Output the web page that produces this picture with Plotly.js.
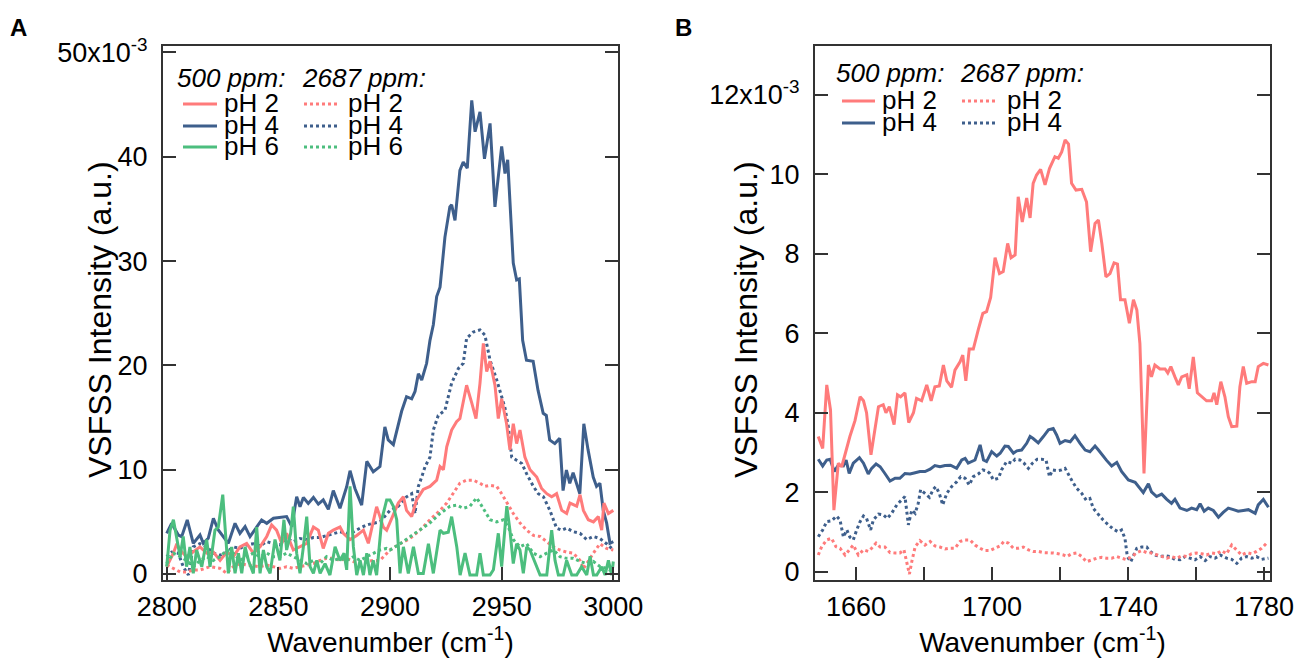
<!DOCTYPE html>
<html><head><meta charset="utf-8">
<script src="https://cdn.plot.ly/plotly-3.0.1.min.js"></script>
<style>html,body{margin:0;padding:0;background:#fff;} #chart{width:1299px;height:661px;}</style>
</head><body><div id="chart"></div>
<script>
// ---------------- Panel A (C-H region), values in units of 1e-3 ----------------
const A_xTicks = [2800, 2850, 2900, 2950, 3000];
const A_yTicks = [0, 10, 20, 30, 40, 50];
const A_yTickText = ['0', '10', '20', '30', '40', '50x10<sup>-3</sup>'];

// 500 ppm, pH 4 (solid blue)
const A500_pH4_x = [2800.0,2802.2,2805.2,2806.7,2809.2,2811.9,2814.9,2816.4,2818.6,2820.9,2823.1,2825.4,2827.6,2830.6,2832.8,2835.1,2837.3,2842.5,2844.8,2847.8,2850.7,2853.7,2856.0,2858.2,2859.7,2861.2,2863.4,2865.7,2867.9,2870.1,2872.4,2874.6,2877.6,2880.6,2882.1,2884.3,2887.3,2889.6,2892.5,2895.5,2897.7,2899.2,2901.5,2903.0,2905.2,2907.4,2909.7,2911.2,2912.7,2914.2,2916.4,2917.9,2919.4,2920.9,2922.4,2924.6,2926.8,2927.6,2929.1,2931.3,2932.8,2934.6,2936.6,2938.1,2940.3,2942.3,2944.8,2947.0,2950.0,2951.5,2952.7,2955.2,2956.7,2957.9,2959.4,2961.1,2964.1,2966.3,2968.6,2970.0,2971.5,2973.8,2976.0,2977.5,2979.0,2980.5,2982.0,2985.0,2986.8,2988.7,2991.0,2992.5,2994.0,2995.5,2997.0,2998.5,3000.0];
const A500_pH4_y = [3.9,4.86,3.74,3.58,5.18,2.94,3.74,2.94,3.42,5.34,4.22,3.58,2.94,4.86,3.9,4.54,3.58,5.18,4.86,5.34,5.43,5.5,4.54,7.4,6.45,7.34,6.77,7.34,6.7,7.1,6.2,8.0,6.3,8.37,9.9,8.2,6.6,10.8,9.8,10.3,14.1,12.85,12.4,13.8,15.6,17.0,16.8,17.5,19.2,18.6,20.2,22.4,23.9,26.6,27.5,32.3,35.2,35.4,33.9,38.7,39.5,38.9,45.4,42.4,44.3,39.8,43.2,35.2,41.0,38.4,39.7,29.8,28.2,28.3,22.4,20.5,20.4,17.6,15.4,15.2,12.85,12.5,13.0,8.0,9.97,8.7,9.7,7.7,14.4,11.9,9.3,8.4,8.7,6.1,4.9,2.94,3.1];

// 2687 ppm, pH 4 (dotted blue)
const A2687_pH4_x = [2800.0,2802.2,2805.2,2807.4,2809.7,2811.9,2814.9,2817.9,2820.9,2823.9,2826.9,2829.8,2832.8,2835.8,2838.8,2841.8,2844.8,2847.8,2850.7,2853.7,2856.7,2859.7,2862.7,2865.7,2868.7,2871.6,2874.6,2877.6,2880.6,2883.6,2886.6,2889.6,2892.5,2895.5,2900.0,2903.7,2907.4,2909.7,2911.2,2912.7,2914.2,2915.7,2917.9,2919.4,2921.6,2924.6,2927.6,2930.6,2932.8,2934.3,2937.3,2940.3,2942.5,2944.8,2947.8,2949.2,2951.5,2953.0,2954.5,2956.7,2959.0,2961.2,2964.2,2966.4,2968.7,2971.6,2974.6,2976.9,2979.1,2982.1,2985.1,2988.1,2991.1,2994.0,2997.0,3000.0];
const A2687_pH4_y = [1.66,2.1,2.0,0.7,-0.1,2.6,2.9,2.6,2.0,1.8,2.1,2.6,2.45,2.8,2.9,2.7,3.1,2.9,2.8,3.4,3.1,3.4,3.3,3.5,3.5,3.7,3.9,4.05,3.9,4.05,4.4,4.7,4.86,5.0,6.1,6.5,7.4,7.7,5.8,8.4,9.3,10.3,11.2,13.8,15.2,15.7,18.3,19.7,20.2,22.6,23.2,23.4,22.9,20.5,18.6,17.5,15.9,14.1,11.2,10.9,10.6,9.6,8.4,7.7,7.4,6.1,4.4,4.2,4.4,4.05,3.9,3.3,3.6,3.4,2.9,2.3];

// 500 ppm, pH 2 (solid red)
const A500_pH2_x = [2800.0,2803.0,2804.5,2806.0,2808.9,2811.9,2814.9,2817.9,2820.9,2823.9,2826.9,2829.8,2832.8,2835.8,2838.8,2841.8,2844.8,2847.0,2849.2,2851.5,2853.7,2856.7,2859.7,2862.7,2865.7,2867.9,2870.1,2872.4,2874.6,2877.6,2879.1,2882.1,2885.1,2888.1,2890.3,2892.5,2894.0,2895.5,2897.0,2898.5,2901.5,2903.7,2906.0,2907.4,2909.7,2911.9,2914.9,2917.9,2920.9,2922.4,2923.9,2925.4,2927.6,2929.8,2931.3,2934.3,2936.6,2938.5,2940.3,2941.8,2943.3,2944.8,2947.0,2948.5,2950.0,2952.2,2953.7,2955.2,2956.7,2958.2,2960.4,2962.7,2965.7,2967.9,2970.2,2972.4,2974.6,2976.9,2979.1,2980.6,2983.6,2985.1,2986.6,2988.8,2991.1,2993.3,2994.8,2995.8,2997.8,3000.0];
const A500_pH2_y = [0.7,2.0,2.9,2.3,1.66,2.1,2.6,2.0,2.1,1.3,2.1,1.66,2.6,2.94,2.0,2.6,3.6,4.7,4.2,2.94,3.9,2.3,2.6,2.94,4.5,4.2,2.45,3.9,4.2,4.5,3.9,3.3,3.7,4.2,2.94,5.2,6.45,5.5,4.5,4.2,5.8,6.8,7.4,6.1,5.5,7.1,8.1,8.4,9.0,10.3,10.0,12.2,13.8,14.6,14.9,18.1,16.4,14.9,18.3,22.1,19.4,20.4,18.1,14.9,16.8,14.4,11.9,14.4,12.5,13.8,11.2,10.0,9.3,8.2,7.7,7.4,7.7,6.1,5.8,6.8,6.5,7.6,6.1,5.2,5.0,5.5,4.2,6.8,5.8,6.1];

// 2687 ppm, pH 2 (dotted red)
const A2687_pH2_x = [2800.0,2803.0,2806.0,2808.9,2811.9,2814.9,2819.4,2823.9,2826.9,2829.8,2832.8,2835.8,2838.8,2841.8,2844.8,2847.8,2850.7,2853.7,2856.7,2859.7,2862.7,2865.7,2868.7,2871.6,2874.6,2877.6,2880.6,2883.6,2886.6,2889.6,2892.5,2895.5,2900.0,2904.5,2908.9,2913.4,2917.9,2922.4,2925.4,2928.3,2931.3,2934.3,2937.3,2940.3,2942.5,2944.8,2947.8,2950.0,2952.2,2955.2,2958.2,2961.2,2964.2,2967.2,2970.2,2973.1,2976.1,2979.1,2982.1,2985.1,2986.6,2988.8,2991.1,2994.0,2997.0,3000.0];
const A2687_pH2_y = [0.86,0.54,0.2,0.2,0.38,0.38,0.7,0.54,0.06,0.7,1.0,0.86,0.77,0.7,0.86,0.7,0.54,0.7,0.54,0.7,0.86,1.0,1.3,1.5,1.5,1.3,1.5,1.2,1.0,1.2,1.3,1.3,2.3,2.9,3.4,4.2,5.2,6.1,6.8,7.7,8.7,9.0,9.0,8.7,8.4,8.5,8.4,7.7,6.9,5.8,4.9,4.2,3.7,3.6,3.1,2.6,2.3,2.1,2.0,1.3,0.5,1.3,2.0,2.9,2.45,2.3];

// 2687 ppm, pH 6 (dotted green)
const A2687_pH6_x = [2800.0,2803.0,2806.0,2808.9,2811.9,2814.9,2817.9,2820.9,2823.9,2826.9,2829.8,2832.8,2835.8,2838.8,2841.8,2844.8,2847.8,2850.7,2853.7,2856.7,2859.7,2862.7,2865.7,2868.7,2871.6,2874.6,2877.6,2880.6,2883.6,2886.6,2889.6,2892.5,2895.5,2898.5,2900.0,2904.5,2909.0,2913.4,2917.9,2922.4,2926.9,2929.9,2932.8,2935.8,2938.8,2940.3,2942.6,2944.8,2947.8,2950.8,2953.0,2955.2,2958.2,2961.2,2964.2,2967.2,2970.2,2973.2,2976.1,2979.1,2982.1,2985.1,2988.1,2991.1,2994.1,2997.0,3000.0];
const A2687_pH6_y = [1.0,2.0,1.66,1.3,0.7,1.3,1.66,1.3,1.66,2.3,2.0,1.3,1.66,2.0,1.66,2.0,1.66,1.66,2.0,1.66,1.3,1.0,1.3,1.0,1.66,1.3,1.5,1.3,1.66,1.3,1.66,2.0,2.3,2.45,2.3,2.9,3.6,4.2,4.9,5.8,6.5,6.6,6.3,6.5,7.3,6.8,6.0,5.2,5.0,5.2,4.5,3.3,2.6,2.9,2.0,1.66,2.0,2.3,1.66,1.5,1.5,1.2,1.0,1.2,0.7,0.54,0.2];

// 500 ppm, pH 6 (solid green)
const A500_pH6_x = [2800.0,2801.5,2803.0,2804.5,2806.0,2807.4,2808.9,2810.4,2811.9,2813.4,2815.7,2817.9,2819.4,2821.6,2823.1,2825.1,2826.9,2827.6,2829.1,2830.6,2832.1,2833.6,2835.1,2836.6,2838.8,2840.3,2841.8,2843.3,2844.8,2846.3,2848.5,2850.7,2852.5,2853.7,2855.5,2856.7,2858.2,2859.7,2861.2,2862.7,2864.2,2865.7,2867.2,2868.7,2870.9,2873.1,2875.4,2877.6,2879.4,2880.6,2882.1,2883.6,2885.1,2886.6,2888.1,2889.6,2891.0,2892.5,2894.0,2896.3,2898.5,2900.0,2901.5,2903.0,2904.5,2906.0,2908.2,2910.5,2912.7,2914.9,2917.2,2919.4,2922.4,2923.9,2926.1,2927.6,2929.9,2931.4,2933.6,2935.8,2938.8,2940.3,2941.8,2944.8,2946.3,2948.5,2950.0,2952.3,2953.7,2955.2,2956.7,2958.2,2959.7,2961.2,2962.7,2964.9,2967.2,2970.2,2972.4,2973.9,2975.4,2977.6,2979.1,2981.4,2983.6,2985.8,2988.1,2989.6,2991.1,2992.6,2994.8,2996.3,2997.8,2999.3,3000.0];
const A500_pH6_y = [0.7,4.2,5.2,3.6,1.66,3.6,0.7,2.6,0.06,2.3,0.7,3.3,0.7,4.2,4.5,7.6,2.6,0.06,2.6,0.06,2.0,0.06,2.6,1.3,0.06,4.5,0.06,2.3,0.7,0.06,3.3,1.3,5.2,2.3,3.9,6.45,2.0,0.06,2.6,5.5,0.7,0.06,1.3,0.06,1.0,-0.1,2.6,1.3,2.0,0.4,8.4,2.6,-0.1,1.3,-0.1,2.0,-0.1,1.3,-0.1,5.2,7.1,7.1,6.5,5.2,0.06,2.6,0.06,2.6,0.06,0.06,2.9,0.06,4.2,3.9,4.0,5.5,2.6,-0.1,2.0,-0.1,-0.1,2.0,-0.1,-0.1,0.4,3.9,0.7,6.5,4.2,1.0,2.9,2.3,0.06,2.6,2.3,1.2,-0.1,-0.1,4.2,1.3,-0.1,-0.1,1.3,-0.1,-0.1,0.7,-0.1,1.7,-0.1,-0.1,0.7,-0.1,1.3,-0.1,1.2];

// ---------------- Panel B (C=O region), values in units of 1e-3 ----------------
const B_xTicks = [1660, 1700, 1740, 1780];
const B_xMinorTicks = [1680, 1720, 1760];
const B_yTicks = [0, 2, 4, 6, 8, 10, 12];
const B_yTickText = ['0', '2', '4', '6', '8', '10', '12x10<sup>-3</sup>'];

// 500 ppm, pH 2 (solid red)
const B500_pH2_x = [1648.9,1650.2,1651.4,1652.5,1653.5,1654.8,1655.8,1656.8,1658.2,1659.7,1661.2,1662.2,1663.1,1664.4,1665.6,1666.6,1668.0,1668.8,1669.8,1671.2,1672.2,1673.1,1674.4,1675.5,1676.9,1677.8,1679.3,1680.8,1682.1,1683.2,1684.5,1685.7,1686.7,1688.1,1689.1,1690.6,1691.4,1692.3,1693.3,1694.5,1696.0,1697.3,1698.4,1699.6,1700.9,1702.2,1703.3,1704.6,1705.6,1706.8,1707.7,1708.9,1710.2,1711.2,1712.1,1713.1,1714.3,1715.6,1716.9,1718.5,1719.5,1720.5,1721.5,1722.5,1723.4,1724.7,1726.4,1727.8,1729.0,1730.3,1731.3,1732.3,1733.5,1734.7,1735.9,1736.9,1737.8,1739.1,1740.4,1741.6,1742.6,1743.5,1744.7,1746.0,1746.9,1747.9,1749.4,1750.9,1751.7,1752.6,1753.8,1754.8,1755.8,1757.3,1758.0,1759.2,1760.4,1761.7,1763.1,1764.6,1765.3,1766.1,1767.3,1768.5,1769.5,1770.5,1772.0,1772.9,1773.9,1774.9,1776.4,1777.4,1778.3,1779.8,1781.3];
const B500_pH2_y = [3.4,3.1,4.7,4.07,1.55,2.73,2.64,2.98,3.4,3.8,4.4,4.3,4.0,2.94,3.65,4.15,4.2,4.0,4.15,3.7,4.45,4.4,4.5,3.75,4.0,4.36,4.3,4.7,4.3,4.65,4.67,5.2,4.8,4.64,5.07,5.28,5.45,4.8,5.6,5.6,6.1,6.5,6.54,6.9,7.9,7.5,7.55,8.26,7.9,7.97,9.43,8.8,9.4,8.9,9.77,9.98,10.12,9.73,10.14,10.44,10.4,10.56,10.86,10.76,9.77,9.6,9.62,9.3,8.05,8.76,8.85,8.26,7.42,7.5,7.77,7.74,6.84,6.84,6.25,6.84,6.58,5.74,2.47,5.2,4.9,5.2,5.1,5.1,5.0,5.16,4.9,4.7,4.9,4.95,4.6,5.4,4.5,4.4,4.3,4.3,4.5,4.2,4.78,4.4,3.9,3.65,3.66,4.65,5.16,4.74,4.78,4.78,5.16,5.24,5.2];

// 500 ppm, pH 4 (solid blue)
const B500_pH4_x = [1648.9,1650.2,1651.4,1652.4,1653.6,1654.8,1656.3,1657.1,1658.0,1659.2,1661.0,1662.2,1663.6,1664.6,1665.9,1667.1,1668.5,1670.0,1671.5,1672.9,1674.4,1675.9,1677.4,1678.8,1680.3,1681.8,1683.2,1684.7,1686.2,1687.8,1689.6,1691.1,1692.1,1693.0,1695.0,1696.5,1697.5,1698.4,1699.9,1701.4,1702.4,1703.8,1704.8,1706.3,1707.3,1708.7,1710.2,1711.2,1712.1,1713.6,1715.1,1716.6,1718.0,1719.0,1720.0,1721.5,1723.0,1724.4,1725.9,1727.4,1728.8,1730.3,1731.3,1732.3,1733.7,1735.2,1736.7,1738.1,1740.1,1742.1,1743.5,1744.5,1746.0,1746.9,1748.4,1749.9,1751.4,1752.8,1753.8,1755.3,1757.3,1758.7,1760.2,1761.2,1762.4,1763.6,1765.1,1766.6,1768.0,1769.5,1771.0,1772.4,1773.9,1775.4,1777.4,1778.3,1779.8,1781.3];
const B500_pH4_y = [2.83,2.66,2.81,2.83,2.52,2.68,2.66,2.81,2.47,2.73,2.87,2.73,2.46,2.6,2.71,2.64,2.47,2.28,2.35,2.35,2.47,2.46,2.49,2.52,2.52,2.58,2.67,2.64,2.67,2.68,2.6,2.81,2.85,2.73,2.81,3.19,2.81,2.77,3.02,2.91,2.98,3.16,3.15,2.98,3.04,3.06,3.23,3.4,3.35,3.24,3.4,3.57,3.6,3.44,3.23,3.3,3.27,3.42,3.23,3.06,3.02,3.16,3.06,2.94,2.8,2.66,2.75,2.52,2.31,2.25,2.1,1.99,2.21,2.01,1.89,1.95,1.82,1.72,1.82,1.6,1.54,1.6,1.56,1.71,1.52,1.6,1.54,1.37,1.49,1.6,1.56,1.52,1.54,1.56,1.47,1.68,1.82,1.62];

// 2687 ppm, pH 2 (dotted red)
const B2687_pH2_x = [1648.9,1649.9,1651.4,1652.8,1654.1,1655.3,1656.8,1658.2,1659.2,1660.7,1662.2,1663.6,1664.6,1665.9,1667.1,1668.5,1670.0,1671.5,1672.9,1674.1,1674.9,1675.7,1676.4,1677.4,1678.8,1680.3,1681.8,1683.2,1684.7,1686.2,1687.6,1689.1,1690.6,1692.1,1693.5,1695.0,1696.5,1697.9,1699.4,1700.9,1702.4,1703.5,1704.8,1706.3,1707.7,1709.2,1710.7,1712.1,1713.6,1715.1,1716.6,1718.0,1719.5,1721.0,1722.0,1723.4,1724.9,1726.4,1727.8,1729.3,1730.8,1732.3,1733.7,1735.2,1736.7,1738.1,1739.6,1741.1,1742.6,1744.0,1745.5,1746.9,1748.4,1749.9,1751.4,1752.8,1754.3,1755.8,1757.3,1758.7,1760.2,1761.7,1763.1,1764.6,1766.1,1767.5,1769.0,1770.5,1772.0,1773.4,1774.9,1776.4,1777.8,1779.3,1780.8];
const B2687_pH2_y = [0.42,0.63,0.8,0.84,0.63,0.59,0.42,0.57,0.67,0.42,0.55,0.51,0.59,0.72,0.62,0.62,0.48,0.47,0.47,0.55,0.25,-0.06,0.25,0.63,0.78,0.67,0.76,0.65,0.62,0.57,0.59,0.59,0.76,0.8,0.8,0.67,0.59,0.53,0.53,0.59,0.65,0.76,0.72,0.59,0.59,0.62,0.55,0.51,0.51,0.48,0.48,0.47,0.45,0.42,0.38,0.45,0.47,0.38,0.25,0.3,0.34,0.36,0.34,0.34,0.38,0.34,0.3,0.38,0.48,0.53,0.48,0.47,0.42,0.38,0.34,0.38,0.34,0.4,0.38,0.45,0.47,0.45,0.42,0.47,0.45,0.53,0.45,0.67,0.53,0.42,0.48,0.45,0.51,0.59,0.72];

// 2687 ppm, pH 4 (dotted blue)
const B2687_pH4_x = [1648.9,1650.2,1651.4,1652.8,1654.3,1655.3,1656.3,1657.3,1658.2,1659.2,1660.2,1661.2,1662.2,1663.1,1664.3,1665.1,1666.6,1668.0,1669.2,1670.5,1672.0,1673.4,1674.4,1675.4,1676.4,1677.4,1678.3,1679.0,1680.3,1681.6,1682.7,1683.5,1684.5,1685.5,1686.7,1688.1,1689.6,1690.8,1692.1,1693.3,1694.5,1696.0,1697.3,1698.4,1699.4,1700.4,1701.9,1702.8,1704.3,1705.8,1706.8,1708.2,1709.4,1710.7,1711.9,1713.3,1714.6,1715.9,1716.9,1717.8,1719.2,1720.5,1721.5,1722.5,1723.7,1724.9,1726.4,1727.7,1728.8,1729.8,1731.3,1732.7,1734.2,1735.7,1737.2,1738.1,1739.1,1739.8,1740.8,1741.6,1742.6,1744.0,1745.5,1746.5,1747.9,1749.4,1750.9,1752.3,1753.8,1755.3,1756.8,1758.2,1759.7,1761.2,1762.7,1764.1,1765.6,1767.1,1769.0,1770.5,1772.0,1773.4,1774.9,1776.4,1777.8,1779.3,1781.3];
const B2687_pH4_y = [0.88,1.05,1.26,1.28,1.4,1.3,0.87,1.05,0.87,0.8,1.05,1.26,1.4,1.34,1.05,1.3,1.45,1.43,1.34,1.47,1.68,1.8,1.89,1.18,1.55,1.47,1.72,2.06,1.97,1.87,2.07,2.14,1.97,1.68,1.97,2.14,2.26,2.39,2.35,2.18,2.39,2.46,2.56,2.54,2.47,2.31,2.35,2.56,2.77,2.73,2.83,2.81,2.73,2.6,2.73,2.83,2.83,2.81,2.39,2.56,2.54,2.56,2.6,2.43,2.26,2.1,1.97,1.8,1.84,1.59,1.43,1.3,1.18,1.07,1.0,1.05,0.84,0.38,0.25,0.42,0.59,0.62,0.62,0.51,0.42,0.38,0.4,0.38,0.31,0.3,0.38,0.34,0.3,0.38,0.28,0.38,0.34,0.42,0.34,0.31,0.21,0.34,0.38,0.34,0.38,0.31,0.34];

// ---------------- styling ----------------
const RED = '#FF7B7B', BLUE = '#3E5F8C', GREEN = '#4CBE7E';
const FONT = 'Liberation Sans, Arial, Helvetica, sans-serif';
const AX = '#333333';
const W = 1299, H = 661;
const fx = v => v / W, fy = v => 1 - v / H;

function tr(x, y, color, dash, ax) {
  return {x: x, y: y, type: 'scatter', mode: 'lines', xaxis: ax[0], yaxis: ax[1],
          line: {color: color, width: 3, dash: dash}, hoverinfo: 'skip'};
}
const data = [
  tr(A500_pH4_x, A500_pH4_y, BLUE, 'solid', ['x','y']),
  tr(A2687_pH4_x, A2687_pH4_y, BLUE, 'dot', ['x','y']),
  tr(A2687_pH2_x, A2687_pH2_y, RED, 'dot', ['x','y']),
  tr(A500_pH2_x, A500_pH2_y, RED, 'solid', ['x','y']),
  tr(A2687_pH6_x, A2687_pH6_y, GREEN, 'dot', ['x','y']),
  tr(A500_pH6_x, A500_pH6_y, GREEN, 'solid', ['x','y']),
  tr(B2687_pH4_x, B2687_pH4_y, BLUE, 'dot', ['x2','y2']),
  tr(B2687_pH2_x, B2687_pH2_y, RED, 'dot', ['x2','y2']),
  tr(B500_pH4_x, B500_pH4_y, BLUE, 'solid', ['x2','y2']),
  tr(B500_pH2_x, B500_pH2_y, RED, 'solid', ['x2','y2'])
];

const tickFont = {family: FONT, size: 27, color: '#000'};
function xAxis(domain, range, tv, anchor, minorVals) {
  const ax = {domain: domain, range: range, anchor: anchor, tickmode: 'array', tickvals: tv, ticktext: tv.map(String),
    ticks: 'inside', ticklen: 13, tickwidth: 2, tickcolor: AX, showline: true, linewidth: 2,
    linecolor: AX, mirror: true, showgrid: false, zeroline: false, tickfont: tickFont,
    ticklabelstandoff: 2,
    title: {text: 'Wavenumber (cm<sup>-1</sup>)', font: {family: FONT, size: 28, color: '#000'}, standoff: 0}};
  if (minorVals) {
    ax.minor = {tickmode: 'array', tickvals: minorVals, ticks: 'inside', ticklen: 13, tickwidth: 2,
                tickcolor: AX, showgrid: false};
  }
  return ax;
}
function yAxis(domain, range, tv, tt, anchor) {
  return {domain: domain, range: range, anchor: anchor, tickmode: 'array', tickvals: tv, ticktext: tt,
    ticks: 'inside', ticklen: 13, tickwidth: 2, tickcolor: AX, showline: true, linewidth: 2,
    linecolor: AX, mirror: 'ticks', showgrid: false, zeroline: false, tickfont: tickFont,
    ticklabelstandoff: 8};
}
const yDom = [fy(580), fy(46)];

const annotations = [];
const shapes = [];
function txt(text, x, y, size, opts) {
  annotations.push(Object.assign({text: text, xref: 'paper', yref: 'paper', x: fx(x), y: fy(y),
    xanchor: 'left', yanchor: 'middle', showarrow: false, borderpad: 0,
    font: {family: FONT, size: size, color: '#000'}}, opts || {}));
}
function legLine(x0, x1, y, color, dash) {
  shapes.push({type: 'line', xref: 'paper', yref: 'paper', x0: fx(x0), x1: fx(x1), y0: fy(y), y1: fy(y),
    line: {color: color, width: 3, dash: dash}});
}
// Panel letters
txt('<b>A</b>', 9, 28, 24);
txt('<b>B</b>', 674, 28, 24);
// Y-axis titles
txt('VSFSS Intensity (a.u.)', 100, 320, 32, {xanchor: 'center', textangle: -90});
txt('VSFSS Intensity (a.u.)', 746, 320, 32, {xanchor: 'center', textangle: -90});

// Legend A
const LF = 26;
txt('<i>500 ppm:</i>', 176, 78, LF);
txt('<i>2687 ppm:</i>', 301, 78, LF);
const legA = [['pH 2', RED, 104], ['pH 4', BLUE, 126], ['pH 6', GREEN, 147]];
legA.forEach(r => {
  legLine(183, 217, r[2], r[1], 'solid');
  txt(r[0], 223, r[2] - 1, LF);
  legLine(304, 339, r[2], r[1], 'dot');
  txt(r[0], 347, r[2] - 1, LF);
});
// Legend B
txt('<i>500 ppm:</i>', 835, 73, LF);
txt('<i>2687 ppm:</i>', 959, 73, LF);
const legB = [['pH 2', RED, 101], ['pH 4', BLUE, 123]];
legB.forEach(r => {
  legLine(842, 875, r[2], r[1], 'solid');
  txt(r[0], 881, r[2] - 1, LF);
  legLine(962, 998, r[2], r[1], 'dot');
  txt(r[0], 1006, r[2] - 1, LF);
});

const layout = {
  width: W, height: H, margin: {l: 0, r: 0, t: 0, b: 0, pad: 0},
  paper_bgcolor: '#fff', plot_bgcolor: '#fff', showlegend: false,
  font: {family: FONT, color: '#000'},
  xaxis: xAxis([fx(163), fx(618)], [2798.34, 3002.1], A_xTicks, 'y', null),
  yaxis: yAxis(yDom, [-0.575, 50.62], A_yTicks, A_yTickText, 'x'),
  xaxis2: xAxis([fx(815), fx(1270)], [1647.94, 1781.76], B_xTicks, 'y2', B_xMinorTicks),
  yaxis2: yAxis(yDom, [-0.209, 13.225], B_yTicks, B_yTickText, 'x2'),
  annotations: annotations, shapes: shapes
};
Plotly.newPlot('chart', data, layout, {displayModeBar: false, staticPlot: true});
</script></body></html>
